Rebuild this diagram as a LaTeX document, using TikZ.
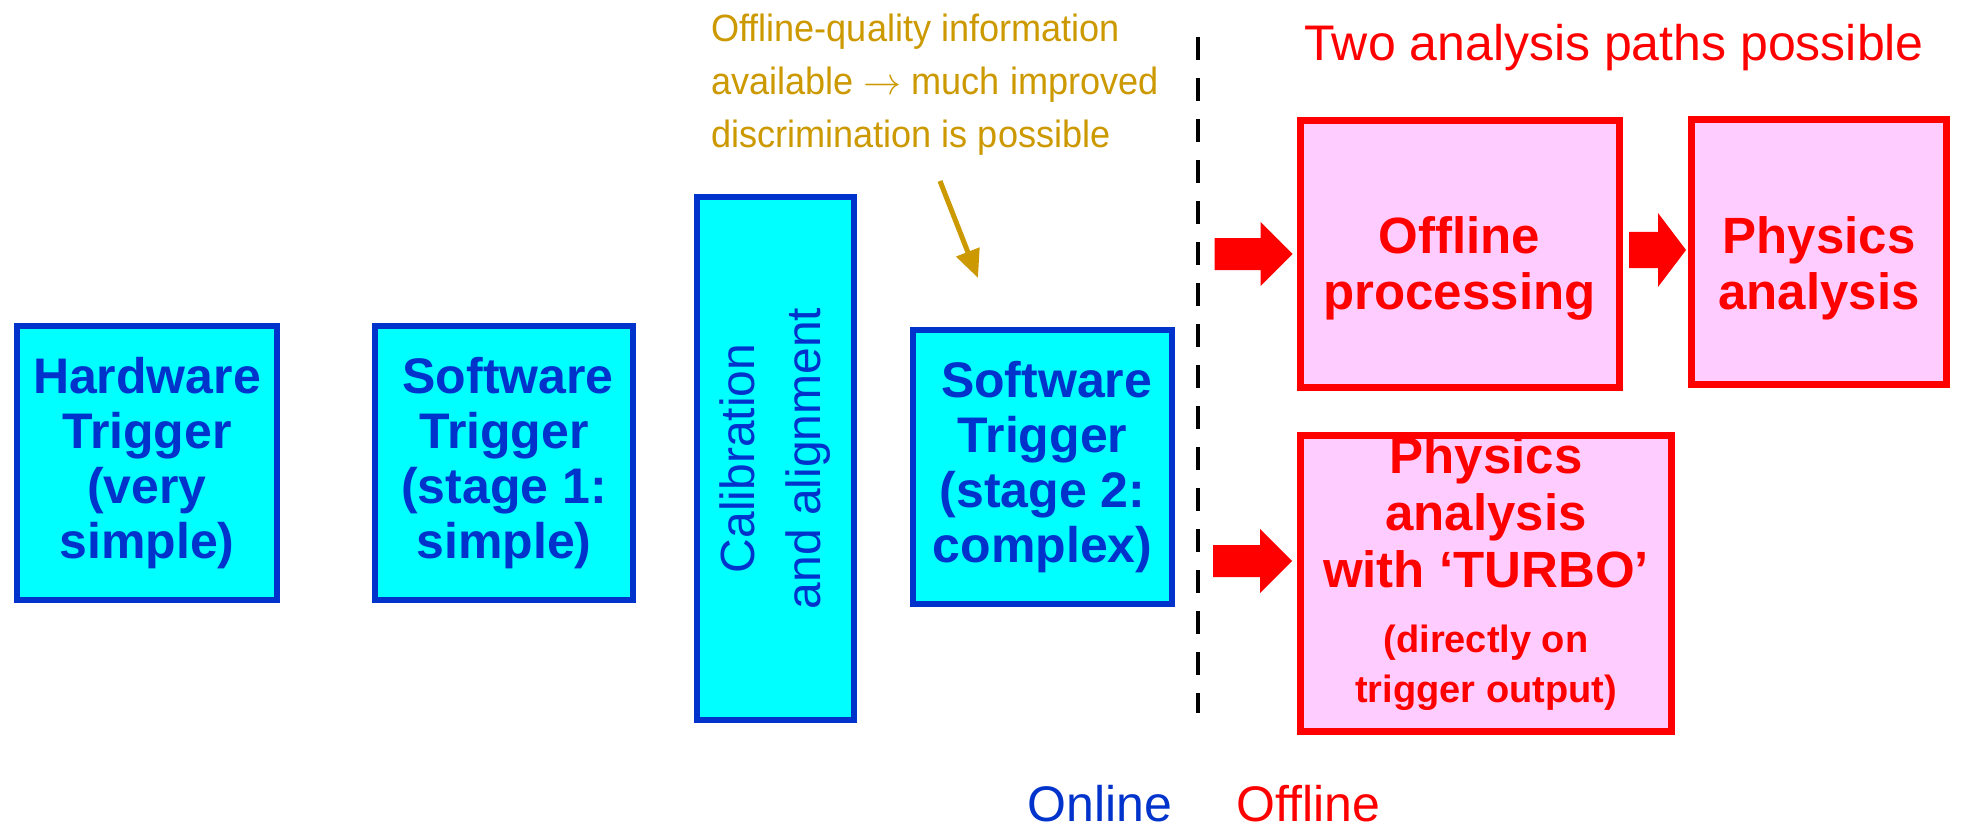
\documentclass[tikz,border=0pt]{standalone}
\usepackage{fix-cm}
\usepackage{fontspec}
\setmainfont{Liberation Sans}
\newfontfamily\notefont[FakeStretch=0.95]{Liberation Sans}
\usetikzlibrary{arrows.meta}
\definecolor{bbord}{RGB}{0,51,204}
\definecolor{bfill}{RGB}{0,255,255}
\definecolor{rbord}{RGB}{255,0,0}
\definecolor{rfill}{RGB}{255,204,255}
\definecolor{goldc}{RGB}{204,153,0}
\begin{document}
\begin{tikzpicture}[x=1pt,y=-1pt,
  bluebox/.style={draw=bbord, fill=bfill, line width=6pt, text=bbord, align=center, inner sep=0pt,
    font=\bfseries\fontsize{50}{55}\selectfont},
  redbox/.style={draw=rbord, fill=rfill, line width=7pt, text=rbord, align=center, inner sep=0pt,
    font=\bfseries\fontsize{51}{56}\selectfont},
  pics/redarrow/.style n args={4}{code={
    \fill[rbord] (0,-#3) -- (#1,-#3) -- (#1,-#4) -- (#2,0) -- (#1,#4) -- (#1,#3) -- (0,#3) -- cycle;}},
  goldarrow/.style={draw=goldc, line width=5pt, -{Triangle[length=28pt,width=24pt]}},
  divider/.style={draw=black, line width=4pt, dash pattern=on 23pt off 18pt}
]
\fill[white] (0,0) rectangle (1962,829);
\useasboundingbox (0,0) rectangle (1962,829);

% online boxes
\node[bluebox, minimum width=260pt, minimum height=274pt] (hw) at (147,463)
  {Hardware\\Trigger\\(very\\simple)};
\node[bluebox, minimum width=258pt, minimum height=274pt] (sw1) at (504,463)
  {\,Software\\Trigger\\(stage 1:\\simple)};
\node[bluebox, minimum width=157pt, minimum height=523pt,
  font=\fontsize{48}{62}\selectfont] (cal) at (775.5,458.5)
  {\rotatebox{90}{\begin{tabular}{@{}c@{}}Calibration\\[4pt]and alignment\end{tabular}}};
\node[bluebox, minimum width=259pt, minimum height=274pt] (sw2) at (1042.5,467)
  {\,Software\\Trigger\\(stage 2:\\complex)};

% offline boxes
\node[redbox, text height=110pt, text depth=0pt, minimum width=319pt, minimum height=266pt] (off) at (1459.5,254)
  {Offline\\processing};
\node[redbox, text height=114pt, text depth=0pt, minimum width=255pt, minimum height=265pt] (phys) at (1819,252)
  {Physics\\analysis};
\node[redbox, text depth=28pt, minimum width=371pt, minimum height=296pt,
  font=\bfseries\fontsize{51}{57}\selectfont] (turbo) at (1486,583.5)
  {Physics\\analysis\\with ‘TURBO’\\[8pt]{\fontsize{38}{45}\selectfont (directly on}\\[-7pt]{\fontsize{38}{45}\selectfont trigger output)}};

% block arrows
\pic at ([xshift=-82pt]off.west) {redarrow={46}{78}{16}{32}};
\pic at ([xshift=-59pt,yshift=2pt]phys.west) {redarrow={29}{57}{18}{37}};
\coordinate (ta) at ([xshift=-84pt]turbo.west |- 0,561);
\pic at (ta) {redarrow={47}{79}{16}{32}};

% divider
\coordinate (d1) at (1198,37);
\coordinate (d2) at (1198,713);
\draw[divider] (d1) -- (d2);

% annotation
\node[text=goldc, anchor=west, align=left, inner sep=0pt,
  font=\notefont\fontsize{38}{53}\selectfont] (note) at (711,85)
  {Offline-quality information\\available $\rightarrow$ much improved\\discrimination is possible};
\coordinate (g1) at (940,181);
\coordinate (g2) at (978,278);
\draw[goldarrow] (g1) -- (g2);

\node[text=rbord, inner sep=0pt, font=\fontsize{50}{55}\selectfont] (two) at (1614,48)
  {Two analysis paths possible};
\node[text=bbord, inner sep=0pt, font=\fontsize{50}{55}\selectfont] (online) at (1100,804) {Online};
\node[text=rbord, inner sep=0pt, font=\fontsize{50}{55}\selectfont] (offline) at (1308,804) {Offline};
\end{tikzpicture}
\end{document}
